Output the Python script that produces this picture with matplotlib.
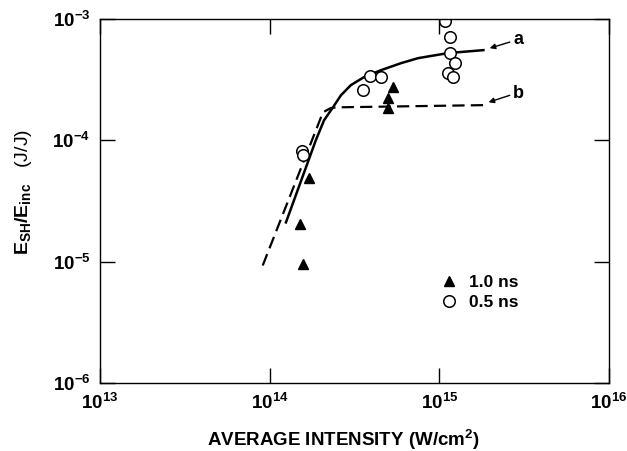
import matplotlib
matplotlib.use("Agg")
import matplotlib.pyplot as plt
from matplotlib.ticker import FixedLocator, FixedFormatter, NullLocator

plt.rcParams['font.family'] = ['Liberation Sans', 'DejaVu Sans']
plt.rcParams['font.weight'] = 'bold'
plt.rcParams['mathtext.fontset'] = 'custom'
plt.rcParams['mathtext.rm'] = 'Liberation Sans:bold'
plt.rcParams['mathtext.bf'] = 'Liberation Sans:bold'
plt.rcParams['mathtext.it'] = 'Liberation Sans:bold'
plt.rcParams['mathtext.sf'] = 'Liberation Sans:bold'

# ---- data ----
tri_x = [1.70e14, 1.51e14, 1.57e14, 5.35e14, 4.99e14, 5.00e14]
tri_y = [4.9e-5, 2.06e-5, 9.6e-6, 2.74e-4, 2.22e-4, 1.84e-4]

circ_x = [1.55e14, 1.58e14, 3.55e14, 3.91e14, 4.54e14,
          1.08e15, 1.16e15, 1.16e15, 1.23e15, 1.13e15, 1.21e15]
circ_y = [8.2e-5, 7.6e-5, 2.59e-4, 3.38e-4, 3.30e-4,
          9.7e-4, 7.1e-4, 5.24e-4, 4.33e-4, 3.58e-4, 3.32e-4]

curve_a_x = [1.24e14, 1.87e14, 2.09e14, 2.36e14, 2.63e14, 3.01e14, 3.60e14,
             4.54e14, 5.96e14, 7.51e14, 1.13e15, 1.85e15]
curve_a_y = [2.06e-5, 1.00e-4, 1.46e-4, 1.87e-4, 2.35e-4, 2.85e-4, 3.32e-4,
             3.79e-4, 4.33e-4, 4.76e-4, 5.24e-4, 5.55e-4]

curve_b_x = [9.1e13, 2.06e14, 2.28e14, 2.46e14, 1.82e15]
curve_b_y = [9.3e-6, 1.70e-4, 1.84e-4, 1.87e-4, 1.95e-4]

x_ticks = [1e13, 1e14, 1e15, 1e16]
x_ticklabels = [r'$10^{13}$', r'$10^{14}$', r'$10^{15}$', r'$10^{16}$']
y_ticks = [1e-6, 1e-5, 1e-4, 1e-3]
y_ticklabels = [r'$10^{-6}$', r'$10^{-5}$', r'$10^{-4}$', r'$10^{-3}$']

legend_labels = ['1.0 ns', '0.5 ns']
curve_labels = ['a', 'b']

# ---- figure ----
fig = plt.figure(figsize=(6.27, 4.51), dpi=100)
ax = fig.add_axes([100/627, 1-383/451, 509/627, (383-19)/451])
ax.set_xscale('log')
ax.set_yscale('log')
ax.set_xlim(1e13, 1e16)
ax.set_ylim(1e-6, 1e-3)

ax.plot(curve_a_x, curve_a_y, color='black', lw=1.8, solid_capstyle='butt',
        solid_joinstyle='round')
ax.plot(curve_b_x, curve_b_y, color='black', lw=1.6, dashes=(5.5, 2.8))

ax.plot(tri_x, tri_y, linestyle='none', marker='^', color='black', markersize=7,
        label=legend_labels[0])
ax.plot(circ_x, circ_y, linestyle='none', marker='o', markerfacecolor='white',
        markeredgecolor='black', markeredgewidth=1.1, markersize=8.3,
        label=legend_labels[1])

# arrows with labels
ax.annotate('', xy=(1.98e15, 5.75e-4), xytext=(2.6e15, 6.45e-4),
            arrowprops=dict(arrowstyle='-|>', color='black', lw=1.0,
                            mutation_scale=8, shrinkA=0, shrinkB=0))
ax.text(2.72e15, 6.75e-4, curve_labels[0], fontsize=13, fontweight='bold',
        ha='left', va='center')
ax.annotate('', xy=(1.95e15, 2.06e-4), xytext=(2.6e15, 2.35e-4),
            arrowprops=dict(arrowstyle='-|>', color='black', lw=1.0,
                            mutation_scale=8, shrinkA=0, shrinkB=0))
ax.text(2.72e15, 2.45e-4, curve_labels[1], fontsize=13, fontweight='bold',
        ha='left', va='center')

ax.legend(loc='center left', bbox_to_anchor=(0.666, 0.249), frameon=False,
          fontsize=12.5, handletextpad=0.5, labelspacing=0.3,
          handlelength=1.2, borderpad=0, borderaxespad=0)

ax.xaxis.set_major_locator(FixedLocator(x_ticks))
ax.xaxis.set_major_formatter(FixedFormatter(x_ticklabels))
ax.yaxis.set_major_locator(FixedLocator(y_ticks))
ax.yaxis.set_major_formatter(FixedFormatter(y_ticklabels))
ax.xaxis.set_minor_locator(NullLocator())
ax.yaxis.set_minor_locator(NullLocator())
ax.tick_params(which='major', direction='in', length=11, width=1.0,
               top=True, right=True, labelsize=13.5, pad=7)
for s in ax.spines.values():
    s.set_linewidth(1.0)

ax.set_xlabel(r'AVERAGE INTENSITY (W/cm$^2$)', fontsize=13.5, fontweight='bold')
ax.xaxis.set_label_coords((343-100)/509, (383-440)/364)
ax.xaxis.label.set_va('center')
ax.set_ylabel(r'$E_{SH}/E_{inc}$   (J/J)', fontsize=14)
ax.yaxis.set_label_coords((23-100)/509, (383-192)/364)
ax.yaxis.label.set_va('center')

fig.savefig('out.png', dpi=100)
